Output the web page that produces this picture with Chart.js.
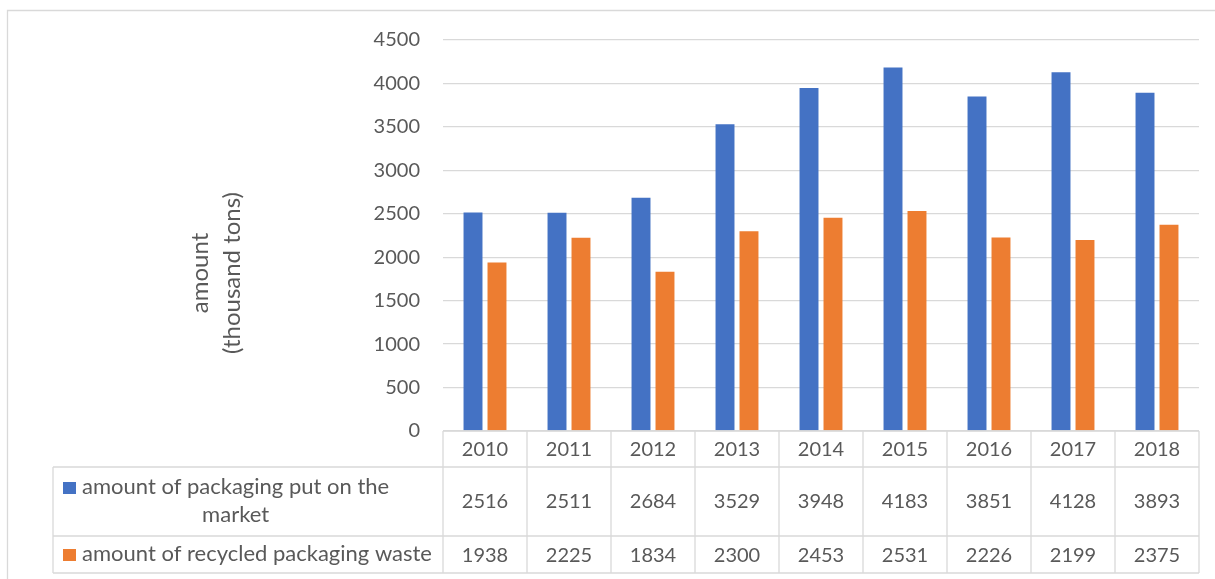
<!DOCTYPE html>
<html>
<head>
<meta charset="utf-8">
<script src="https://cdn.jsdelivr.net/npm/chart.js@4/dist/chart.umd.min.js"></script>
<style>
  html, body { margin: 0; padding: 0; background: #ffffff; }
  #wrap { position: relative; width: 1215px; height: 579px; }
</style>
</head>
<body>
<div id="wrap"><canvas id="c" width="1215" height="579"></canvas></div>
<script>
// ---- data ----
const categories = ['2010', '2011', '2012', '2013', '2014', '2015', '2016', '2017', '2018'];
const marketValues = [2516, 2511, 2684, 3529, 3948, 4183, 3851, 4128, 3893];
const recycledValues = [1938, 2225, 1834, 2300, 2453, 2531, 2226, 2199, 2375];
const seriesNames = ['amount of packaging put on the market', 'amount of recycled packaging waste'];
const seriesColors = ['#4472C4', '#ED7D31'];
const yAxisTitle = ['amount', '(thousand tons)'];
const yMin = 0, yMax = 4500, yStep = 500;

const FONT = 'Lato, "Open Sans", sans-serif';
const FS = 20;
const FS_LEG = 22;
const FS_TITLE = 24;
const TXT = '#595959';
const LINE = '#d9d9d9';

const tablePlugin = {
  id: 'tablePlugin',
  afterDraw(chart) {
    const ctx = chart.ctx;
    const area = chart.chartArea;
    const xs = chart.scales.x;
    const n = categories.length;
    const cw = (area.right - area.left) / n;
    const y0 = area.bottom, y1 = 467, y2 = 536, y3 = 573;
    const legL = 53;
    ctx.save();
    // outer frame
    ctx.strokeStyle = LINE;
    ctx.lineWidth = 1.3;
    ctx.beginPath();
    ctx.moveTo(7.5, 579); ctx.lineTo(7.5, 10.5); ctx.lineTo(1215, 10.5);
    ctx.stroke();
    // table lines
    ctx.beginPath();
    ctx.moveTo(area.left, y0); ctx.lineTo(area.right, y0);
    [y1, y2, y3].forEach(y => { ctx.moveTo(legL, y); ctx.lineTo(area.right, y); });
    ctx.moveTo(legL, y1); ctx.lineTo(legL, y3);
    for (let i = 0; i <= n; i++) {
      const x = xs.getPixelForValue(Math.min(i, n - 1)) + (i === n ? cw / 2 : -cw / 2);
      ctx.moveTo(x, y0); ctx.lineTo(x, y3);
    }
    ctx.stroke();
    // texts
    ctx.fillStyle = TXT;
    ctx.font = FS + 'px ' + FONT;
    ctx.textAlign = 'center';
    ctx.textBaseline = 'alphabetic';
    for (let i = 0; i < n; i++) {
      const cx = xs.getPixelForValue(i);
      ctx.fillText(categories[i], cx, 456);
      ctx.fillText(String(marketValues[i]), cx, 508);
      ctx.fillText(String(recycledValues[i]), cx, 562);
    }
    // legend cells
    ctx.font = FS_LEG + 'px ' + FONT;
    function wrap(text, maxW) {
      const words = text.split(' ');
      const lines = [];
      let cur = '';
      words.forEach(w => {
        const t = cur ? cur + ' ' + w : w;
        if (ctx.measureText(t).width > maxW && cur) { lines.push(cur); cur = w; }
        else cur = t;
      });
      if (cur) lines.push(cur);
      return lines;
    }
    const textX = 82;
    const rowsBase = [[494, 522], [561]];
    seriesNames.forEach((name, s) => {
      const lines = wrap(name, 365);
      const bases = lines.length > 1 ? rowsBase[0] : [rowsBase[s].length > 1 ? (rowsBase[s][0] + rowsBase[s][1]) / 2 + 5 : rowsBase[s][0]];
      const w0 = ctx.measureText(lines[0]).width;
      const centerX = textX + w0 / 2;
      ctx.fillStyle = seriesColors[s];
      ctx.fillRect(63, bases[0] - 12, 13, 12);
      ctx.fillStyle = TXT;
      ctx.textAlign = 'left';
      ctx.fillText(lines[0], textX, bases[0]);
      ctx.textAlign = 'center';
      for (let k = 1; k < lines.length; k++) ctx.fillText(lines[k], centerX, bases[k]);
    });
    // y axis title
    ctx.font = FS_TITLE + 'px ' + FONT;
    ctx.translate(216, 273);
    ctx.rotate(-Math.PI / 2);
    ctx.textAlign = 'center';
    ctx.textBaseline = 'middle';
    ctx.fillText(yAxisTitle[0], 0, -16);
    ctx.fillText(yAxisTitle[1], 0, 16);
    ctx.restore();
  }
};

new Chart(document.getElementById('c'), {
  type: 'bar',
  data: {
    labels: categories,
    datasets: [
      { label: seriesNames[0], data: marketValues, backgroundColor: seriesColors[0],
        barPercentage: 0.79, categoryPercentage: 0.571 },
      { label: seriesNames[1], data: recycledValues, backgroundColor: seriesColors[1],
        barPercentage: 0.79, categoryPercentage: 0.571 }
    ]
  },
  options: {
    responsive: false,
    animation: false,
    devicePixelRatio: 1,
    layout: { padding: { top: 40, bottom: 148, right: 16, left: 0 } },
    plugins: { legend: { display: false }, tooltip: { enabled: false }, title: { display: false } },
    scales: {
      x: { display: false, offset: true, grid: { display: false } },
      y: {
        min: yMin, max: yMax,
        afterFit(scale) { scale.width = 443; },
        ticks: { stepSize: yStep, color: TXT, font: { family: FONT, size: FS }, padding: 23,
                 callback: (v) => String(v) },
        grid: { color: LINE, lineWidth: 1.3, drawTicks: false },
        border: { display: false }
      }
    }
  },
  plugins: [tablePlugin]
});
</script>
</body>
</html>
